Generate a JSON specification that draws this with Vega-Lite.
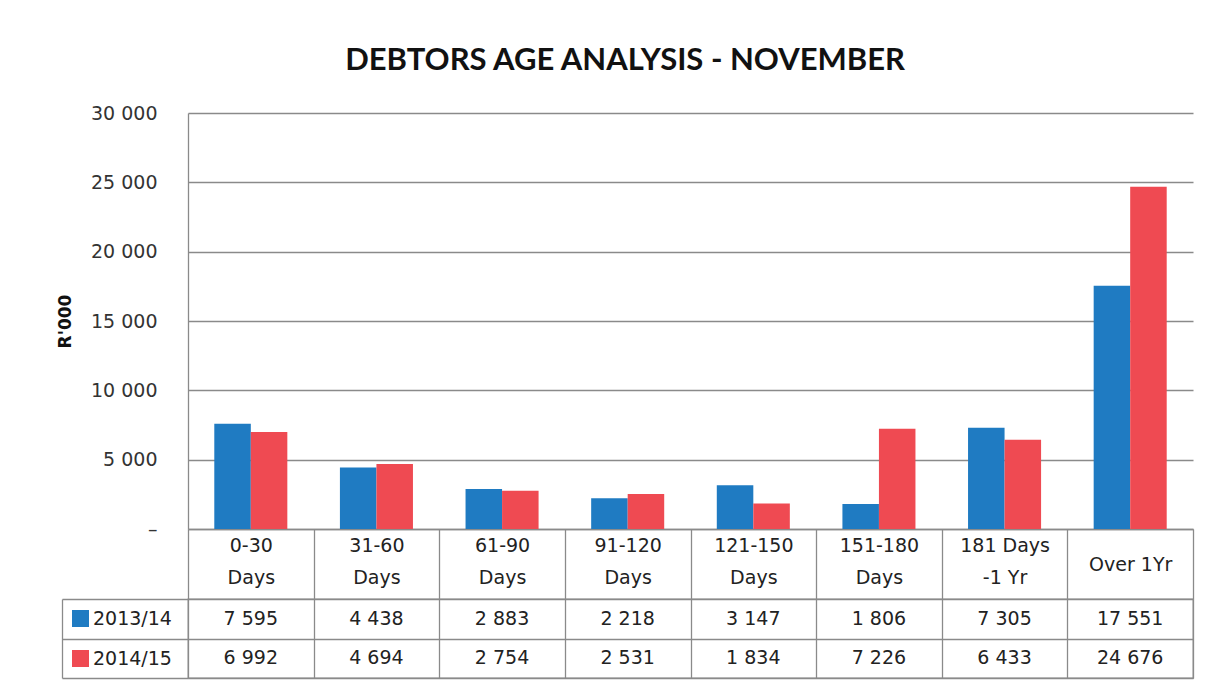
{
  "$schema": "https://vega.github.io/schema/vega-lite/v6.json",
  "background": "white",
  "padding": {"left": 56, "top": 45, "right": 20, "bottom": 10},
  "title": {"text": "DEBTORS AGE ANALYSIS - NOVEMBER", "font": "Lato", "fontSize": 31, "fontWeight": "bold", "color": "#111111", "anchor": "middle", "offset": 27},
  "data": {"values": [
    {"category": "0-30 Days", "series": "2013/14", "value": 7595},
    {"category": "0-30 Days", "series": "2014/15", "value": 6992},
    {"category": "31-60 Days", "series": "2013/14", "value": 4438},
    {"category": "31-60 Days", "series": "2014/15", "value": 4694},
    {"category": "61-90 Days", "series": "2013/14", "value": 2883},
    {"category": "61-90 Days", "series": "2014/15", "value": 2754},
    {"category": "91-120 Days", "series": "2013/14", "value": 2218},
    {"category": "91-120 Days", "series": "2014/15", "value": 2531},
    {"category": "121-150 Days", "series": "2013/14", "value": 3147},
    {"category": "121-150 Days", "series": "2014/15", "value": 1834},
    {"category": "151-180 Days", "series": "2013/14", "value": 1806},
    {"category": "151-180 Days", "series": "2014/15", "value": 7226},
    {"category": "181 Days -1 Yr", "series": "2013/14", "value": 7305},
    {"category": "181 Days -1 Yr", "series": "2014/15", "value": 6433},
    {"category": "Over 1Yr", "series": "2013/14", "value": 17551},
    {"category": "Over 1Yr", "series": "2014/15", "value": 24676}
  ]},
  "bounds": "flush",
  "spacing": 70,
  "vconcat": [
    {
      "width": 1005,
      "height": 416,
      "view": {"stroke": null},
      "mark": {"type": "bar"},
      "encoding": {
        "x": {
          "field": "category", "type": "nominal", "sort": null,
          "scale": {"paddingInner": 0, "paddingOuter": 0},
          "axis": {
            "title": null, "labelAngle": 0, "tickBand": "extent", "tickSize": 70,
            "tickColor": "#8a8a8a", "tickWidth": 1.3, "domainColor": "#8a8a8a", "domainWidth": 1.3,
            "labelFont": "DejaVu Sans", "labelFontSize": 19, "labelColor": "#222222",
            "labelBaseline": "middle", "labelLineHeight": 32, "labelLimit": 0,
            "labelPadding": {"condition": {"test": "datum.value == 'Over 1Yr'", "value": -35}, "value": -54},
            "labelExpr": "datum.label == 'Over 1Yr' ? datum.label : (datum.label == '181 Days -1 Yr' ? ['181 Days', '-1 Yr'] : split(datum.label, ' '))"
          }
        },
        "xOffset": {"field": "series", "type": "nominal", "sort": ["2013/14", "2014/15"], "scale": {"paddingInner": 0, "paddingOuter": 0.72}},
        "y": {
          "field": "value", "type": "quantitative",
          "scale": {"domain": [0, 30000]},
          "axis": {
            "title": "R'000", "titleFont": "DejaVu Sans", "titleFontSize": 17, "titleFontWeight": "bold", "titleColor": "#111111", "titlePadding": 16,
            "values": [0, 5000, 10000, 15000, 20000, 25000, 30000], "format": ",.0f",
            "labelExpr": "datum.value == 0 ? '–' : datum.label",
            "labelFont": "DejaVu Sans", "labelFontSize": 19, "labelColor": "#333333", "labelPadding": 31,
            "ticks": false, "grid": true, "gridColor": "#8a8a8a", "gridWidth": 1.3,
            "domain": true, "domainColor": "#8a8a8a", "domainWidth": 1.3
          }
        },
        "color": {
          "field": "series", "type": "nominal",
          "scale": {"domain": ["2013/14", "2014/15"], "range": ["#1f7bc2", "#ef4a52"]},
          "legend": {
            "orient": "none", "legendX": -117, "legendY": 496, "title": null, "padding": 0,
            "symbolType": "square", "symbolSize": 289, "symbolStrokeWidth": 0,
            "labelFont": "DejaVu Sans", "labelFontSize": 19, "labelColor": "#222222",
            "rowPadding": 20, "labelOffset": 3
          }
        }
      }
    },
    {
      "width": 1005,
      "height": 79,
      "view": {"stroke": "#8a8a8a", "strokeWidth": 1.3},
      "mark": {"type": "text", "font": "DejaVu Sans", "fontSize": 19, "color": "#222222", "baseline": "middle"},
      "encoding": {
        "x": {
          "field": "category", "type": "nominal", "sort": null,
          "scale": {"paddingInner": 0, "paddingOuter": 0},
          "axis": {"title": null, "labels": false, "ticks": false, "domain": false, "grid": true, "tickBand": "extent", "gridColor": "#8a8a8a", "gridWidth": 1.3}
        },
        "y": {
          "field": "series", "type": "nominal", "sort": ["2013/14", "2014/15"],
          "scale": {"paddingInner": 0, "paddingOuter": 0},
          "axis": {"title": null, "labels": false, "domain": true, "domainColor": "#8a8a8a", "domainWidth": 1.3, "offset": 126, "tickSize": -126, "tickBand": "extent", "tickColor": "#8a8a8a", "tickWidth": 1.3, "grid": true, "gridColor": "#8a8a8a", "gridWidth": 1.3}
        },
        "text": {"field": "value", "type": "quantitative", "format": ","}
      }
    }
  ],
  "config": {
    "locale": {"number": {"decimal": ".", "thousands": " ", "grouping": [3], "currency": ["", ""]}},
    "axis": {"labelFont": "DejaVu Sans"}
  }
}
